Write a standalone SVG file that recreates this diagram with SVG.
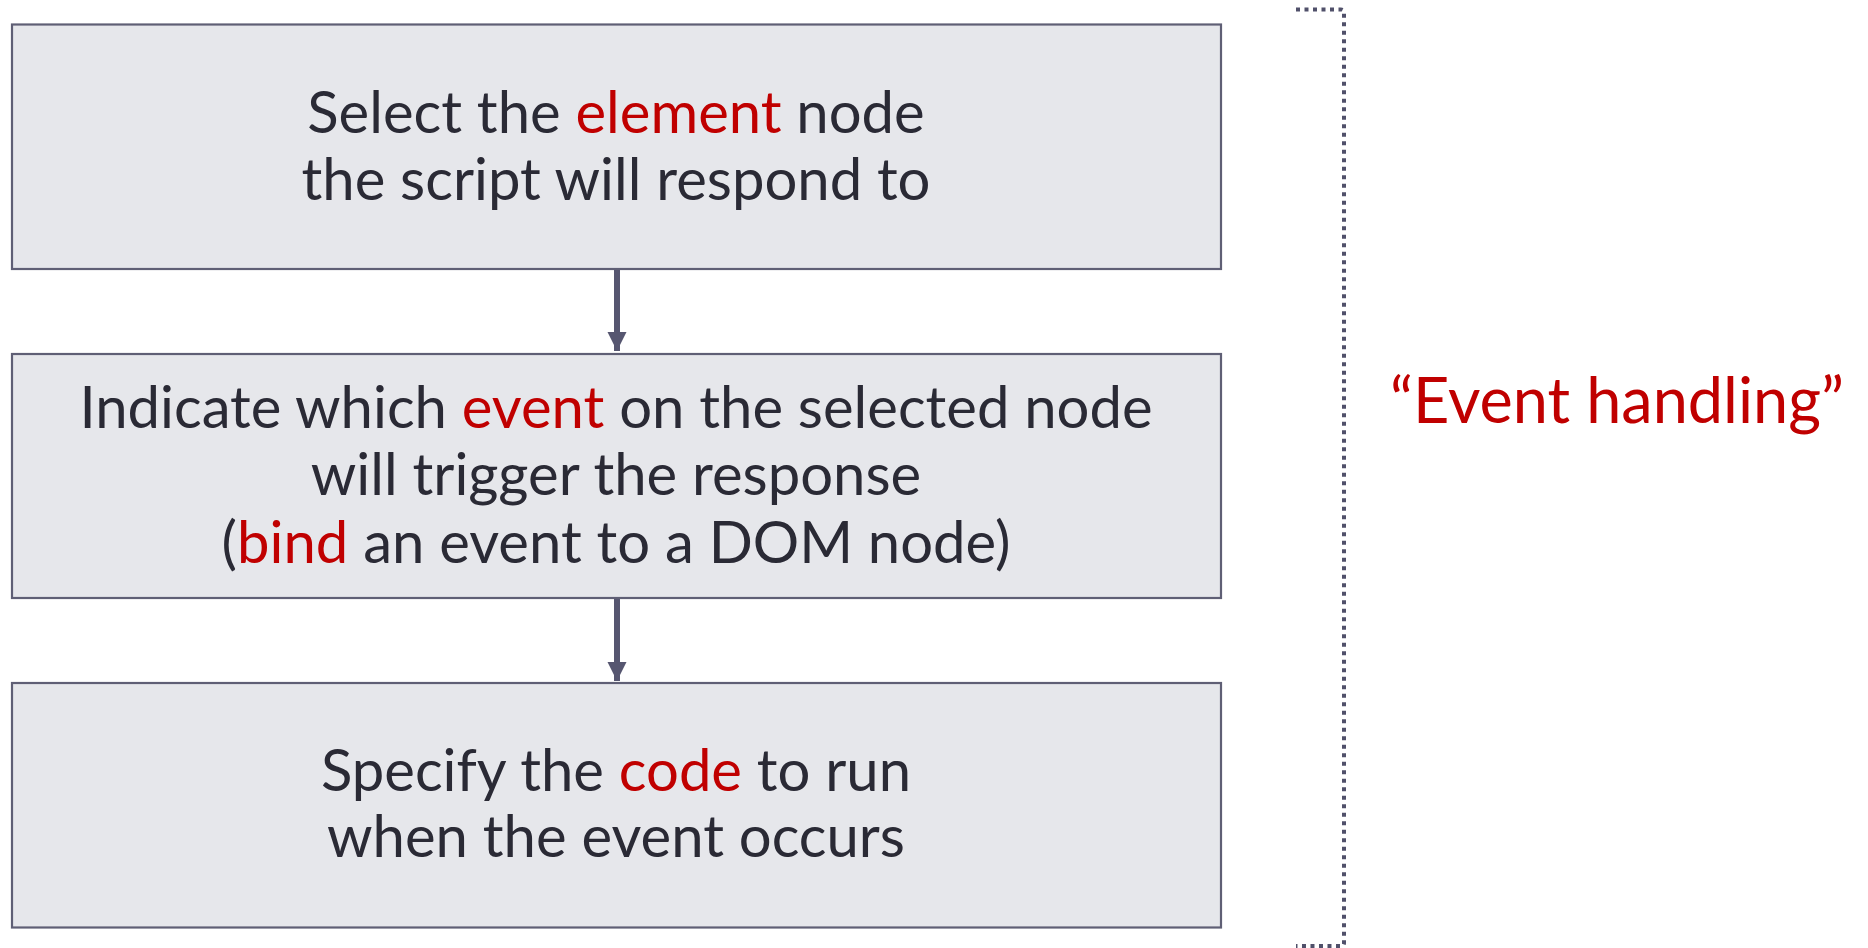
<svg xmlns="http://www.w3.org/2000/svg" width="1868" height="948" viewBox="0 0 1868 948">
<style>
.box{fill:#e6e7eb;stroke:#5f5f75;stroke-width:2.2}
.t{font-family:Lato,"Open Sans","Liberation Sans",sans-serif;font-size:58px;fill:#2a2a35;text-anchor:middle}
.r{fill:#c00000}
.conn{stroke:#565670;stroke-width:6;fill:none}
.br{stroke:#50506a;stroke-width:4;fill:none;stroke-dasharray:4 4.5}
</style>
<defs>
<marker id="ah" markerUnits="userSpaceOnUse" markerWidth="20" markerHeight="20" refX="19" refY="9.5" orient="auto">
<path d="M0,0 L19,9.5 L0,19 Z" fill="#565670"/>
</marker>
</defs>
<rect width="1868" height="948" fill="#ffffff"/>
<g id="connectors">
<line class="conn" x1="617" y1="270" x2="617" y2="351" marker-end="url(#ah)"/>
<line class="conn" x1="617" y1="599" x2="617" y2="681" marker-end="url(#ah)"/>
</g>
<g id="node-select">
<rect class="box" x="12" y="24.5" width="1209" height="244.5"/>
<text class="t" x="616" y="133">Select the <tspan class="r">element</tspan> node</text>
<text class="t" x="616" y="200">the script will respond to</text>
</g>
<g id="node-indicate">
<rect class="box" x="12" y="354" width="1209" height="244"/>
<text class="t" x="616" y="428">Indicate which <tspan class="r">event</tspan> on the selected node</text>
<text class="t" x="616" y="495">will trigger the response</text>
<text class="t" x="616" y="563">(<tspan class="r">bind</tspan> an event to a DOM node)</text>
</g>
<g id="node-specify">
<rect class="box" x="12" y="683" width="1209" height="244.5"/>
<text class="t" x="616" y="791">Specify the <tspan class="r">code</tspan> to run</text>
<text class="t" x="616" y="857">when the event occurs</text>
</g>
<g id="bracket">
<path class="br" d="M1296,9.5 H1341 Q1344,9.5 1344,12.5 V943 Q1344,946 1341,946 H1296"/>
<text x="1617" y="423" style="font-family:Lato,'Open Sans','Liberation Sans',sans-serif;font-size:63px;fill:#c00000;text-anchor:middle">“Event handling”</text>
</g>
</svg>
